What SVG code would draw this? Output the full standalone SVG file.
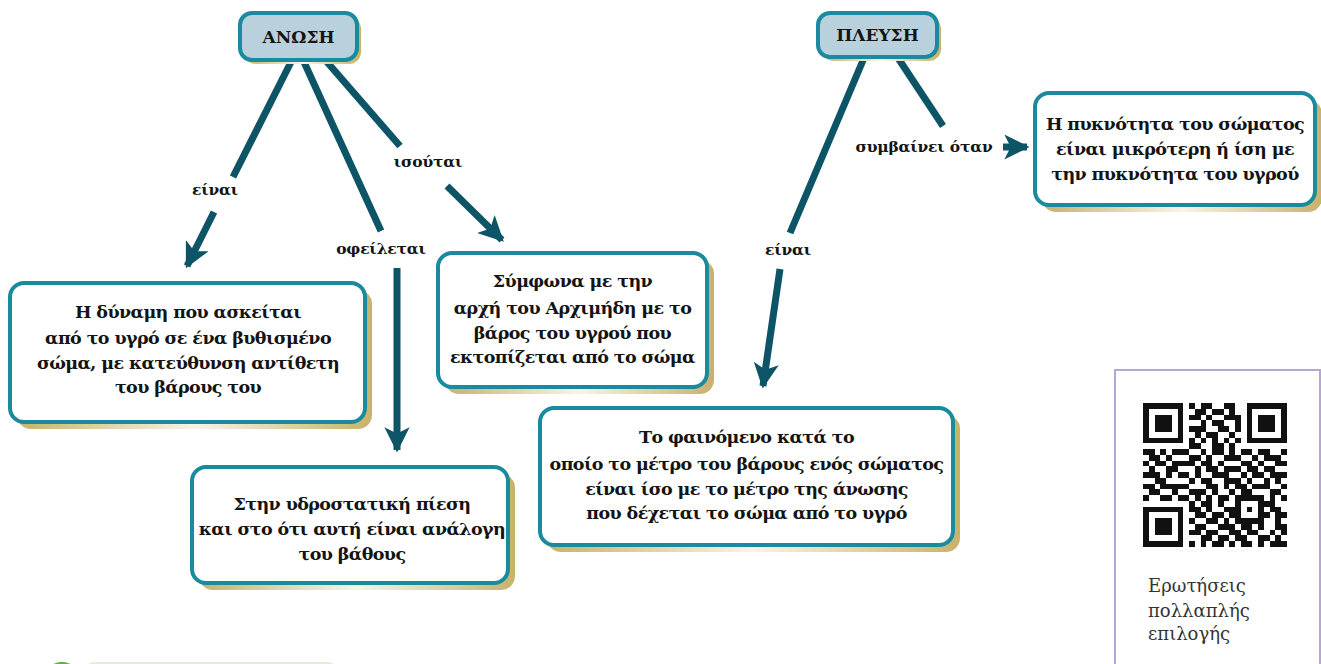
<svg xmlns="http://www.w3.org/2000/svg" width="1321" height="664" viewBox="0 0 1321 664">
<defs>
<linearGradient id="gold" x1="0" y1="0" x2="1" y2="0">
<stop offset="0" stop-color="#c8b26a"/>
<stop offset="0.5" stop-color="#f8f4e6"/>
<stop offset="1" stop-color="#c8b26a"/>
</linearGradient>
<marker id="arr" viewBox="0 0 10 10" refX="9" refY="5" markerWidth="3.6" markerHeight="3.6" orient="auto" markerUnits="strokeWidth">
<path d="M0,0 L10,5 L0,10 L2.5,5 z" fill="#0d5566"/>
</marker>
<style>
.sh{fill:url(#gold)}
.bx{fill:#ffffff;stroke:#1a8a9e;stroke-width:4}
.hd{fill:#b9d1dd;stroke:#1a8a9e;stroke-width:4}
.t{font-family:"DejaVu Serif","Liberation Serif",serif;font-weight:bold;font-size:17.5px;letter-spacing:-0.6px;fill:#141414;text-anchor:middle}
.ht{font-family:"DejaVu Serif","Liberation Serif",serif;font-weight:bold;font-size:17px;fill:#141414;text-anchor:middle}
.lb{font-family:"DejaVu Serif","Liberation Serif",serif;font-weight:bold;font-size:15.5px;letter-spacing:-0.2px;fill:#141414;text-anchor:middle}
.c{stroke:#0d5566;stroke-width:7;fill:none;stroke-linecap:butt}
.qt{font-family:"DejaVu Serif","Liberation Serif",serif;font-size:18px;fill:#333333}
</style>
</defs>
<rect width="1321" height="664" fill="#ffffff"/>

<g id="connectors">
<line class="c" x1="291" y1="62" x2="233" y2="177"/>
<line class="c" x1="214" y1="212" x2="187" y2="266" marker-end="url(#arr)"/>
<line class="c" x1="304" y1="62" x2="381" y2="231"/>
<line class="c" x1="397" y1="268" x2="397" y2="450" marker-end="url(#arr)"/>
<line class="c" x1="327" y1="62" x2="400" y2="146"/>
<line class="c" x1="447" y1="186" x2="502" y2="240" marker-end="url(#arr)"/>
<line class="c" x1="864" y1="58" x2="790" y2="233"/>
<line class="c" x1="780" y1="269" x2="763" y2="386" marker-end="url(#arr)"/>
<line class="c" x1="898" y1="58" x2="943" y2="126"/>
<line class="c" x1="1003" y1="147" x2="1027" y2="147" marker-end="url(#arr)"/>
<text class="lb" x="215" y="195">είναι</text>
<text class="lb" x="381" y="254">οφείλεται</text>
<text class="lb" x="428" y="167">ισούται</text>
<text class="lb" x="788" y="255">είναι</text>
<text class="lb" x="924" y="152">συμβαίνει όταν</text>
</g>

<g id="anosi">
<rect class="sh" x="244" y="17" width="117" height="47" rx="12"/>
<rect class="hd" x="240" y="13" width="117" height="47" rx="12"/>
<text class="ht" x="298.5" y="43">ΑΝΩΣΗ</text>
</g>

<g id="plefsi">
<rect class="sh" x="822" y="17" width="119" height="44" rx="12"/>
<rect class="hd" x="818" y="13" width="119" height="44" rx="12"/>
<text class="ht" x="877.5" y="41">ΠΛΕΥΣΗ</text>
</g>

<g id="box-dynami">
<rect class="sh" x="17" y="290" width="355" height="139" rx="14"/>
<rect class="bx" x="10" y="283" width="355" height="139" rx="14"/>
<text class="t" x="188" y="318">Η δύναμη που ασκείται</text>
<text class="t" x="188" y="344">από το υγρό σε ένα βυθισμένο</text>
<text class="t" x="188" y="369">σώμα, με κατεύθυνση αντίθετη</text>
<text class="t" x="188" y="393">του βάρους του</text>
</g>

<g id="box-piesi">
<rect class="sh" x="199" y="474" width="316" height="116" rx="14"/>
<rect class="bx" x="192" y="467" width="316" height="116" rx="14"/>
<text class="t" x="352" y="510">Στην υδροστατική πίεση</text>
<text class="t" x="352" y="535">και στο ότι αυτή είναι ανάλογη</text>
<text class="t" x="352" y="560">του βάθους</text>
</g>

<g id="box-archimidis">
<rect class="sh" x="445" y="260" width="269" height="134" rx="14"/>
<rect class="bx" x="438" y="253" width="269" height="134" rx="14"/>
<text class="t" x="572.5" y="287">Σύμφωνα με την</text>
<text class="t" x="572.5" y="314">αρχή του Αρχιμήδη με το</text>
<text class="t" x="572.5" y="339">βάρος του υγρού που</text>
<text class="t" x="572.5" y="363">εκτοπίζεται από το σώμα</text>
</g>

<g id="box-fainomeno">
<rect class="sh" x="547" y="415" width="413" height="137" rx="14"/>
<rect class="bx" x="540" y="408" width="413" height="137" rx="14"/>
<text class="t" x="746.5" y="443">Το φαινόμενο κατά το</text>
<text class="t" x="746.5" y="470">οποίο το μέτρο του βάρους ενός σώματος</text>
<text class="t" x="746.5" y="495">είναι ίσο με το μέτρο της άνωσης</text>
<text class="t" x="746.5" y="519">που δέχεται το σώμα από το υγρό</text>
</g>

<g id="box-pyknotita">
<rect class="sh" x="1042" y="100" width="280" height="112" rx="14"/>
<rect class="bx" x="1035" y="93" width="280" height="112" rx="14"/>
<text class="t" x="1175" y="130">Η πυκνότητα του σώματος</text>
<text class="t" x="1175" y="155">είναι μικρότερη ή ίση με</text>
<text class="t" x="1175" y="180">την πυκνότητα του υγρού</text>
</g>

<g id="qr-panel">
<rect x="1115" y="370" width="205" height="310" fill="#ffffff" stroke="#b5a6d6" stroke-width="2"/>
<g transform="translate(1143,403) scale(5.76)" shape-rendering="crispEdges">
<path fill="#111111" d="M0 0h7v1h-7zM8 0h1v1h-1zM10 0h2v1h-2zM14 0h2v1h-2zM18 0h7v1h-7z
M0 1h1v1h-1zM6 1h1v1h-1zM9 1h2v1h-2zM12 1h2v1h-2zM15 1h1v1h-1zM18 1h1v1h-1zM24 1h1v1h-1z
M0 2h1v1h-1zM2 2h3v1h-3zM6 2h1v1h-1zM8 2h2v1h-2zM11 2h1v1h-1zM14 2h3v1h-3zM18 2h1v1h-1zM20 2h3v1h-3zM24 2h1v1h-1z
M0 3h1v1h-1zM2 3h3v1h-3zM6 3h1v1h-1zM10 3h1v1h-1zM12 3h2v1h-2zM16 3h1v1h-1zM18 3h1v1h-1zM20 3h3v1h-3zM24 3h1v1h-1z
M0 4h1v1h-1zM2 4h3v1h-3zM6 4h1v1h-1zM8 4h3v1h-3zM13 4h2v1h-2zM16 4h1v1h-1zM18 4h1v1h-1zM20 4h3v1h-3zM24 4h1v1h-1z
M0 5h1v1h-1zM6 5h1v1h-1zM9 5h1v1h-1zM11 5h2v1h-2zM15 5h1v1h-1zM18 5h1v1h-1zM24 5h1v1h-1z
M0 6h7v1h-7zM8 6h1v1h-1zM10 6h1v1h-1zM12 6h1v1h-1zM14 6h1v1h-1zM16 6h1v1h-1zM18 6h7v1h-7z
M8 7h2v1h-2zM12 7h2v1h-2zM15 7h1v1h-1z
M0 8h2v1h-2zM3 8h1v1h-1zM5 8h3v1h-3zM10 8h1v1h-1zM12 8h2v1h-2zM15 8h1v1h-1zM17 8h2v1h-2zM20 8h2v1h-2zM24 8h1v1h-1z
M1 9h2v1h-2zM4 9h1v1h-1zM8 9h2v1h-2zM11 9h1v1h-1zM14 9h3v1h-3zM19 9h1v1h-1zM21 9h3v1h-3z
M0 10h1v1h-1zM2 10h2v1h-2zM5 10h4v1h-4zM10 10h2v1h-2zM13 10h1v1h-1zM17 10h2v1h-2zM20 10h1v1h-1zM23 10h2v1h-2z
M1 11h1v1h-1zM4 11h2v1h-2zM9 11h1v1h-1zM11 11h2v1h-2zM14 11h3v1h-3zM18 11h2v1h-2zM21 11h2v1h-2z
M0 12h3v1h-3zM4 12h1v1h-1zM6 12h2v1h-2zM9 12h1v1h-1zM12 12h3v1h-3zM17 12h1v1h-1zM19 12h2v1h-2zM22 12h3v1h-3z
M2 13h2v1h-2zM8 13h1v1h-1zM10 13h2v1h-2zM14 13h3v1h-3zM18 13h1v1h-1zM21 13h1v1h-1zM23 13h1v1h-1z
M0 14h2v1h-2zM3 14h5v1h-5zM11 14h2v1h-2zM14 14h1v1h-1zM16 14h2v1h-2zM19 14h3v1h-3zM24 14h1v1h-1z
M1 15h2v1h-2zM5 15h1v1h-1zM8 15h3v1h-3zM12 15h1v1h-1zM15 15h1v1h-1zM17 15h2v1h-2zM22 15h2v1h-2z
M0 16h1v1h-1zM3 16h2v1h-2zM6 16h2v1h-2zM9 16h1v1h-1zM11 16h1v1h-1zM13 16h2v1h-2zM16 16h5v1h-5zM22 16h1v1h-1zM24 16h1v1h-1z
M8 17h1v1h-1zM10 17h2v1h-2zM13 17h1v1h-1zM16 17h1v1h-1zM20 17h3v1h-3z
M0 18h7v1h-7zM8 18h2v1h-2zM11 18h1v1h-1zM14 18h3v1h-3zM18 18h1v1h-1zM20 18h1v1h-1zM22 18h2v1h-2z
M0 19h1v1h-1zM6 19h1v1h-1zM9 19h2v1h-2zM12 19h2v1h-2zM15 19h2v1h-2zM20 19h2v1h-2zM23 19h2v1h-2z
M0 20h1v1h-1zM2 20h3v1h-3zM6 20h1v1h-1zM8 20h1v1h-1zM11 20h2v1h-2zM14 20h1v1h-1zM16 20h5v1h-5zM23 20h1v1h-1z
M0 21h1v1h-1zM2 21h3v1h-3zM6 21h1v1h-1zM9 21h2v1h-2zM13 21h3v1h-3zM17 21h2v1h-2zM20 21h1v1h-1zM23 21h2v1h-2z
M0 22h1v1h-1zM2 22h3v1h-3zM6 22h1v1h-1zM8 22h2v1h-2zM11 22h2v1h-2zM15 22h2v1h-2zM18 22h2v1h-2zM22 22h1v1h-1zM24 22h1v1h-1z
M0 23h1v1h-1zM6 23h1v1h-1zM10 23h2v1h-2zM13 23h2v1h-2zM16 23h2v1h-2zM20 23h2v1h-2zM23 23h1v1h-1z
M0 24h7v1h-7zM8 24h1v1h-1zM10 24h1v1h-1zM12 24h2v1h-2zM15 24h1v1h-1zM17 24h2v1h-2zM20 24h1v1h-1zM22 24h3v1h-3z"/>
</g>
<text class="qt" x="1148" y="592">Ερωτήσεις</text>
<text class="qt" x="1148" y="617">πολλαπλής</text>
<text class="qt" x="1148" y="640">επιλογής</text>
</g>

<g id="footer">
<circle cx="62" cy="681" r="19" fill="#6aa84f"/>
<rect x="87" y="662" width="248" height="20" rx="6" fill="#e6ebe2"/>
</g>
</svg>
